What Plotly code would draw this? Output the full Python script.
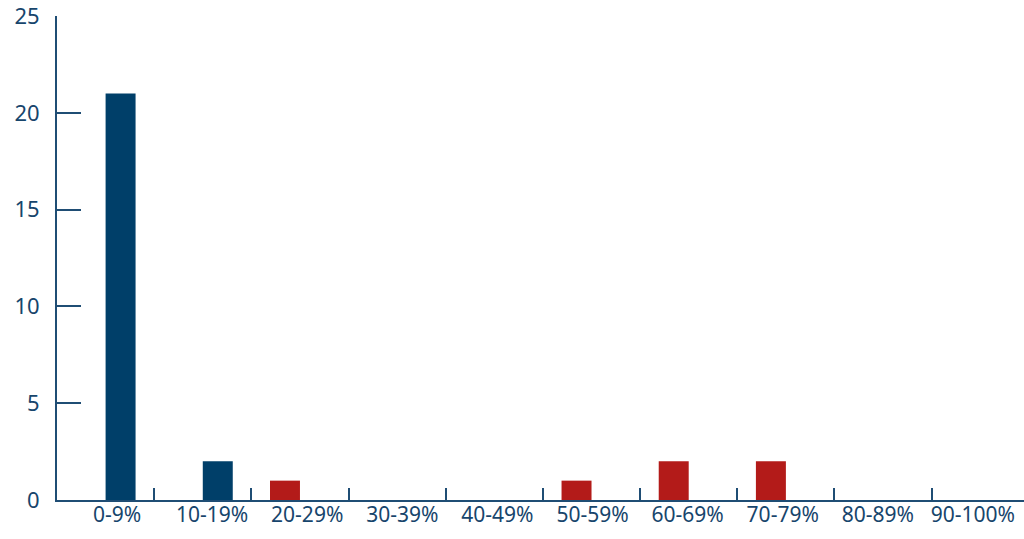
import plotly.graph_objects as go

categories = ["0-9%", "10-19%", "20-29%", "30-39%", "40-49%",
              "50-59%", "60-69%", "70-79%", "80-89%", "90-100%"]
series_red = [0, 0, 1, 0, 0, 1, 2, 2, 0, 0]
series_blue = [21, 2, 0, 0, 0, 0, 0, 0, 0, 0]
y_ticks = [0, 5, 10, 15, 20, 25]
label_positions = list(range(len(categories)))

BLUE = "#003f69"
RED = "#b31b19"
AXIS = "#1f4d74"
TEXT = "#17456c"
FONT = "Noto Sans"

fig = go.Figure()
fig.add_trace(go.Bar(x=categories, y=series_red, marker_color=RED,
                     marker_line_width=0, showlegend=False))
fig.add_trace(go.Bar(x=categories, y=series_blue, marker_color=BLUE,
                     marker_line_width=0, showlegend=False))
# invisible helper trace carrying the category labels on a second x axis
fig.add_trace(go.Scatter(x=label_positions, y=series_red, xaxis="x2",
                         mode="markers", marker=dict(opacity=0),
                         hoverinfo="skip", showlegend=False))

fig.update_layout(
    width=1024, height=539,
    margin=dict(l=57, r=0, t=16, b=39, autoexpand=False),
    paper_bgcolor="white", plot_bgcolor="white",
    barmode="group", bargap=0.383, bargroupgap=0,
    font=dict(family=FONT, size=21, color=TEXT),
    xaxis=dict(
        type="category", range=[-0.5, 9.45], automargin=False,
        showline=True, linecolor=AXIS, linewidth=2,
        ticks="inside", tickson="boundaries", ticklen=12, tickwidth=2, tickcolor=AXIS,
        showgrid=False, zeroline=False, showticklabels=False,
    ),
    xaxis2=dict(
        overlaying="x", anchor="y", side="bottom", automargin=False,
        range=[-0.631, 9.537],
        tickmode="array", tickvals=label_positions, ticktext=categories,
        showline=False, ticks="", showgrid=False, zeroline=False,
        tickfont=dict(family=FONT, size=21, color=TEXT),
        ticklabeloverflow="allow",
    ),
    yaxis=dict(
        range=[0, 25], tickvals=y_ticks, automargin=False,
        showline=True, linecolor=AXIS, linewidth=2,
        ticks="inside", ticklen=24, tickwidth=2, tickcolor=AXIS,
        showgrid=False, zeroline=False, ticklabelstandoff=11,
        tickfont=dict(family=FONT, size=22, color=TEXT),
        ticklabeloverflow="allow",
    ),
)

fig.write_html(
    "out.html",
    config={"displayModeBar": False},
    post_script="document.body.style.margin='0';document.body.style.overflow='hidden';",
)
